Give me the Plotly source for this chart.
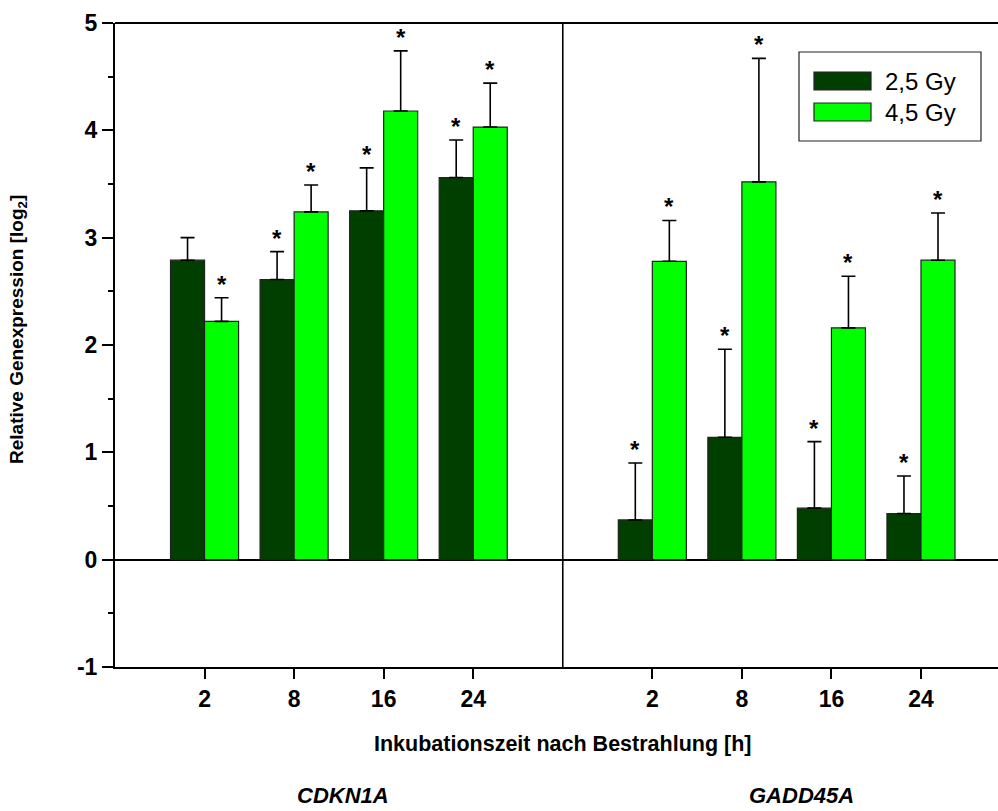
import plotly.graph_objects as go

# ---- data ----
genes = ["CDKN1A", "GADD45A"]
times = ["2", "8", "16", "24"]
dose_labels = ["2,5 Gy", "4,5 Gy"]
y_ticks = [-1, 0, 1, 2, 3, 4, 5]
y_tick_labels = ["-1", "0", "1", "2", "3", "4", "5"]

cdkn1a_25 = [2.79, 2.61, 3.25, 3.56]
cdkn1a_25_err = [0.21, 0.26, 0.40, 0.35]
cdkn1a_45 = [2.22, 3.24, 4.18, 4.03]
cdkn1a_45_err = [0.22, 0.25, 0.56, 0.41]

gadd45a_25 = [0.37, 1.14, 0.48, 0.43]
gadd45a_25_err = [0.53, 0.82, 0.62, 0.35]
gadd45a_45 = [2.78, 3.52, 2.16, 2.79]
gadd45a_45_err = [0.38, 1.15, 0.48, 0.44]

sig_25 = [False, True, True, True, True, True, True, True]
sig_45 = [True, True, True, True, True, True, True, True]

# positions on a numeric axis: left panel 1..4, right panel 6..9
pos = [1, 2, 3, 4, 6, 7, 8, 9]
tick_text = times + times

vals_25 = cdkn1a_25 + gadd45a_25
err_25 = cdkn1a_25_err + gadd45a_25_err
vals_45 = cdkn1a_45 + gadd45a_45
err_45 = cdkn1a_45_err + gadd45a_45_err

dark = "#003f00"
light = "#00ff00"
FONT = "Liberation Sans, Arial, sans-serif"

fig = go.Figure()
for vals, errs, col, name in [(vals_25, err_25, dark, dose_labels[0]),
                              (vals_45, err_45, light, dose_labels[1])]:
    fig.add_trace(go.Bar(
        x=pos, y=vals, name=name, marker=dict(color=col, line=dict(color="#222222", width=1.2)),
        error_y=dict(type="data", array=errs, arrayminus=[0] * len(errs), symmetric=False,
                     color="black", thickness=1.6, width=7),
        showlegend=False, hoverinfo="skip",
    ))

fig.update_layout(
    width=998, height=811,
    margin=dict(l=115, r=0, t=23, b=144),
    paper_bgcolor="white", plot_bgcolor="white",
    barmode="group", bargap=0.24, bargroupgap=0,
    font=dict(family=FONT, color="black"),
)

fig.update_xaxes(
    range=[0, 9.86], tickvals=pos, ticktext=tick_text,
    showgrid=False, zeroline=False,
    showline=True, linecolor="black", linewidth=2,
    ticks="outside", ticklen=10, tickwidth=1.5, tickcolor="black",
    tickfont=dict(size=23, family=FONT, weight="bold", color="black"),
)
fig.update_yaxes(
    range=[-1, 5], tickvals=y_ticks, ticktext=y_tick_labels,
    showgrid=False, zeroline=True, zerolinecolor="black", zerolinewidth=2,
    showline=True, linecolor="black", linewidth=2,
    ticks="outside", ticklen=11, tickwidth=1.5, tickcolor="black",
    minor=dict(ticks="outside", ticklen=5, tickwidth=1.5, tickcolor="black", dtick=0.5, tick0=0),
    tickfont=dict(size=23, family=FONT, weight="bold", color="black"),
)

shapes = [
    # top frame line
    dict(type="line", xref="paper", yref="paper", x0=0, x1=1, y0=1, y1=1,
         line=dict(color="black", width=2)),
    # panel divider
    dict(type="line", xref="x", yref="y", x0=5, x1=5, y0=-1, y1=5,
         line=dict(color="black", width=1.6)),
]

annotations = []
# significance stars
for i, p in enumerate(pos):
    for off, vals, errs, sig in [(-0.19, vals_25, err_25, sig_25), (0.19, vals_45, err_45, sig_45)]:
        if sig[i]:
            annotations.append(dict(
                x=p + off, y=vals[i] + errs[i], xref="x", yref="y",
                text="*", showarrow=False, yanchor="bottom", yshift=-2,
                font=dict(size=24, family=FONT, weight="bold", color="black")))

# custom legend
lx0, lx1, ly0, ly1 = 799, 981, 52, 141
W, H, L, T = 998, 811, 115, 23
pw, ph = W - L, 667 - T
def px(x):
    return (x - L) / pw
def py(y):
    return (667 - y) / ph
shapes.append(dict(type="rect", xref="paper", yref="paper",
                   x0=px(lx0), x1=px(lx1), y0=py(ly1), y1=py(ly0),
                   line=dict(color="#222222", width=1.2), fillcolor="white"))
for (y0, y1), col, lab in [((72, 90), dark, dose_labels[0]), ((103, 121), light, dose_labels[1])]:
    shapes.append(dict(type="rect", xref="paper", yref="paper",
                       x0=px(814), x1=px(871), y0=py(y1), y1=py(y0),
                       line=dict(color="#222222", width=1.2), fillcolor=col))
    annotations.append(dict(x=px(883), y=py((y0 + y1) / 2), xref="paper", yref="paper",
                            text=lab, showarrow=False, xanchor="left", yanchor="middle",
                            font=dict(size=24, family=FONT, color="black")))

# axis titles
annotations.append(dict(x=0, y=0.5, xref="paper", yref="paper", xshift=-97, yshift=15,
                        text="Relative Genexpression [log<sub>2</sub>]", textangle=-90,
                        showarrow=False, xanchor="center", yanchor="middle",
                        font=dict(size=19, family=FONT, weight="bold", color="black")))
annotations.append(dict(x=px(562), y=0, xref="paper", yref="paper", yshift=-77,
                        text="Inkubationszeit nach Bestrahlung [h]",
                        showarrow=False, xanchor="center", yanchor="middle",
                        font=dict(size=21.5, family=FONT, weight="bold", color="black")))
# gene labels
for g, cx in zip(genes, [343, 801]):
    annotations.append(dict(x=px(cx), y=0, xref="paper", yref="paper", yshift=-128,
                            text=g, showarrow=False, xanchor="center", yanchor="middle",
                            font=dict(size=22, family=FONT, weight="bold", style="italic",
                                      color="black")))

fig.update_layout(shapes=shapes, annotations=annotations)
fig.write_html("out.html")
